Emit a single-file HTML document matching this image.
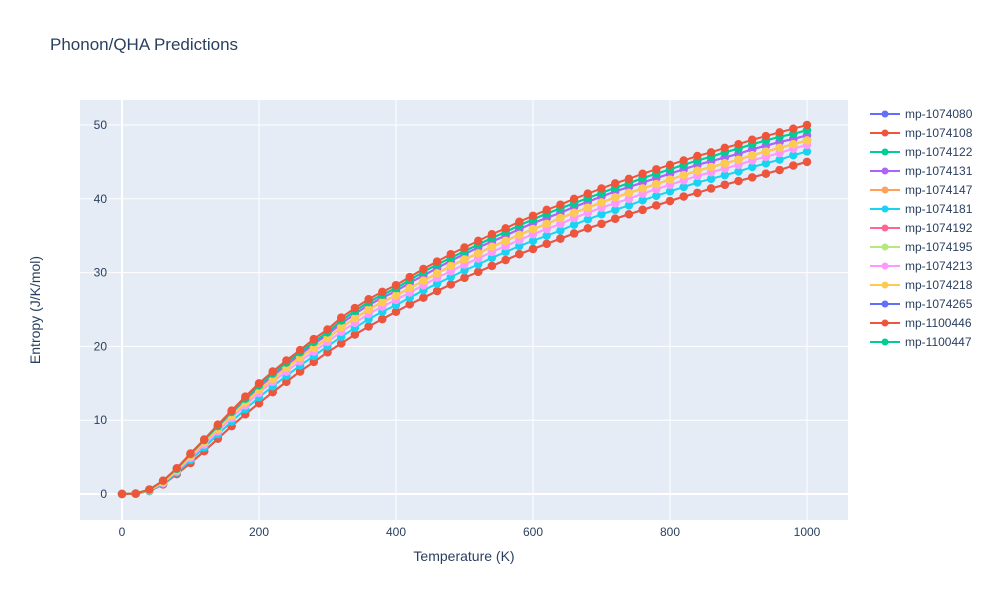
<!DOCTYPE html>
<html><head><meta charset="utf-8"><style>
body{margin:0;background:#fff;font-family:"Liberation Sans",sans-serif}
svg text{font-family:"Liberation Sans",sans-serif}
</style></head><body>
<svg id="chart" width="1000" height="600" xmlns="http://www.w3.org/2000/svg">
<rect width="1000" height="600" fill="#fff"/>
<text x="50" y="50" font-size="17" fill="#2a3f5f">Phonon/QHA Predictions</text>
<rect x="80" y="100" width="768" height="420" fill="#E5ECF6"/>
<g id="grid"></g><g id="series"></g><g id="axes"></g><g id="legend"></g>
<text x="464" y="561" font-size="14" fill="#2a3f5f" text-anchor="middle">Temperature (K)</text>
<text transform="translate(40,310) rotate(-90)" font-size="14" fill="#2a3f5f" text-anchor="middle">Entropy (J/K/mol)</text>
</svg>
<script>
const temps = [0,20,40,60,80,100,120,140,160,180,200,220,240,260,280,300,320,340,360,380,400,420,440,460,480,500,520,540,560,580,600,620,640,660,680,700,720,740,760,780,800,820,840,860,880,900,920,940,960,980,1000];
const sTop = [0,0.05,0.6,1.8,3.5,5.5,7.4,9.4,11.3,13.2,15.0,16.6,18.1,19.5,21.0,22.3,23.9,25.2,26.4,27.4,28.3,29.4,30.5,31.5,32.5,33.4,34.3,35.2,36.0,36.9,37.7,38.5,39.2,40.0,40.7,41.4,42.1,42.7,43.4,44.0,44.6,45.2,45.8,46.3,46.9,47.4,48.0,48.5,49.0,49.5,50.0];
const sA = [0,0.05,0.6,1.8,3.4,5.4,7.3,9.2,11.1,12.9,14.7,16.3,17.8,19.2,20.6,21.9,23.5,24.8,26.0,27.0,27.9,29.0,30.1,31.1,32.0,32.9,33.8,34.7,35.5,36.4,37.2,38.0,38.7,39.4,40.1,40.8,41.5,42.1,42.8,43.4,44.0,44.6,45.2,45.7,46.3,46.8,47.4,47.9,48.4,48.8,49.3];
const sB = [0,0.05,0.6,1.7,3.3,5.3,7.2,9.1,10.9,12.7,14.5,16.0,17.5,18.9,20.3,21.6,23.1,24.4,25.6,26.6,27.5,28.6,29.6,30.6,31.6,32.5,33.4,34.2,35.0,35.9,36.7,37.4,38.1,38.9,39.6,40.3,41.0,41.6,42.2,42.8,43.4,44.0,44.6,45.1,45.6,46.1,46.7,47.2,47.7,48.1,48.6];
const sC = [0,0.04,0.5,1.6,3.2,5.1,7.0,8.8,10.6,12.4,14.1,15.6,17.1,18.5,19.8,21.1,22.6,23.8,25.0,26.0,26.9,27.9,28.9,29.9,30.9,31.8,32.6,33.5,34.3,35.1,35.9,36.6,37.4,38.1,38.8,39.5,40.2,40.8,41.4,42.0,42.6,43.2,43.8,44.3,44.8,45.3,45.9,46.4,46.9,47.4,47.9];
const sD = [0,0.04,0.5,1.5,3.1,4.9,6.7,8.5,10.3,12.0,13.7,15.2,16.6,18.0,19.3,20.6,22.0,23.2,24.4,25.4,26.3,27.3,28.3,29.3,30.2,31.1,31.9,32.8,33.6,34.4,35.2,35.9,36.6,37.4,38.1,38.8,39.4,40.0,40.7,41.3,41.9,42.5,43.1,43.6,44.1,44.6,45.2,45.7,46.2,46.8,47.3];
const sE = [0,0.03,0.4,1.4,2.9,4.6,6.3,8.1,9.8,11.5,13.1,14.6,16.0,17.4,18.7,20.0,21.3,22.5,23.7,24.7,25.6,26.6,27.6,28.5,29.4,30.3,31.1,32.0,32.8,33.6,34.3,35.0,35.7,36.5,37.2,37.9,38.5,39.1,39.8,40.4,41.0,41.6,42.2,42.7,43.2,43.7,44.3,44.8,45.3,45.9,46.4];
const sBot = [0,0.03,0.4,1.3,2.7,4.2,5.8,7.5,9.2,10.8,12.3,13.8,15.2,16.6,17.9,19.2,20.4,21.6,22.7,23.7,24.7,25.7,26.6,27.5,28.4,29.3,30.1,30.9,31.7,32.5,33.2,33.9,34.6,35.3,36.0,36.6,37.3,37.9,38.5,39.1,39.7,40.3,40.8,41.4,41.9,42.4,42.9,43.4,43.9,44.5,45.0];
const seriesNames = ['mp-1074080','mp-1074108','mp-1074122','mp-1074131','mp-1074147','mp-1074181','mp-1074192','mp-1074195','mp-1074213','mp-1074218','mp-1074265','mp-1100446','mp-1100447'];
const seriesValues = [sB,sBot,sA,sB,sC,sE,sC,sD,sD,sC,sBot,sTop,sA];
const seriesColors = ['#636efa','#EF553B','#00cc96','#ab63fa','#FFA15A','#19d3f3','#FF6692','#B6E880','#FF97FF','#FECB52','#636efa','#EF553B','#00cc96'];
const drawOrder = [0,10,1,2,3,4,5,6,7,8,9,12,11];
const xTicks = [0,200,400,600,800,1000];
const yTicks = [0,10,20,30,40,50];

const NS='http://www.w3.org/2000/svg';
const xs = v => 122 + v*0.685;
const ys = v => 494 - v*7.38;
function mk(tag, attrs, parent){const e=document.createElementNS(NS,tag);for(const k in attrs)e.setAttribute(k,attrs[k]);parent.appendChild(e);return e;}
const grid=document.getElementById('grid'), axes=document.getElementById('axes'), ser=document.getElementById('series'), leg=document.getElementById('legend');
xTicks.forEach(t=>{
  const l=mk('line',{x1:xs(t),x2:xs(t),y1:100,y2:520,stroke:'#fff','stroke-width':t===0?2:1},grid);
  
  
  const tx=mk('text',{x:xs(t),y:536,'font-size':12,fill:'#2a3f5f','text-anchor':'middle'},axes);
  tx.textContent=t;
  
  
});
yTicks.forEach(t=>{
  const l=mk('line',{x1:80,x2:848,y1:ys(t),y2:ys(t),stroke:'#fff','stroke-width':t===0?2:1},grid);
  
  
  const tx=mk('text',{x:107,y:ys(t)+4,'font-size':12,fill:'#2a3f5f','text-anchor':'end'},axes);
  tx.textContent=t;
  
  
});
drawOrder.forEach(i=>{
  const name=seriesNames[i];
  const g=mk('g',{},ser);
  
  
  const vals=seriesValues[i], c=seriesColors[i];
  const pts=temps.map((t,j)=>xs(t)+','+ys(vals[j])).join(' ');
  mk('polyline',{points:pts,fill:'none',stroke:c,'stroke-width':2},g);
  temps.forEach((t,j)=>{
    const m=mk('circle',{cx:xs(t),cy:ys(vals[j]),r:4.2,fill:c},g);
    
    
  });
});
seriesNames.forEach((name,i)=>{
  const c=seriesColors[i];
  const y=114+i*19;
  const lg=mk('g',{},leg);
  
  
  mk('line',{x1:870,x2:900,y1:y,y2:y,stroke:c,'stroke-width':2},lg);
  mk('circle',{cx:885,cy:y,r:3.5,fill:c},lg);
  const tx=mk('text',{x:905,y:y+4,'font-size':12,fill:'#2a3f5f'},lg);
  tx.textContent=name;
});
</script>
</body></html>
